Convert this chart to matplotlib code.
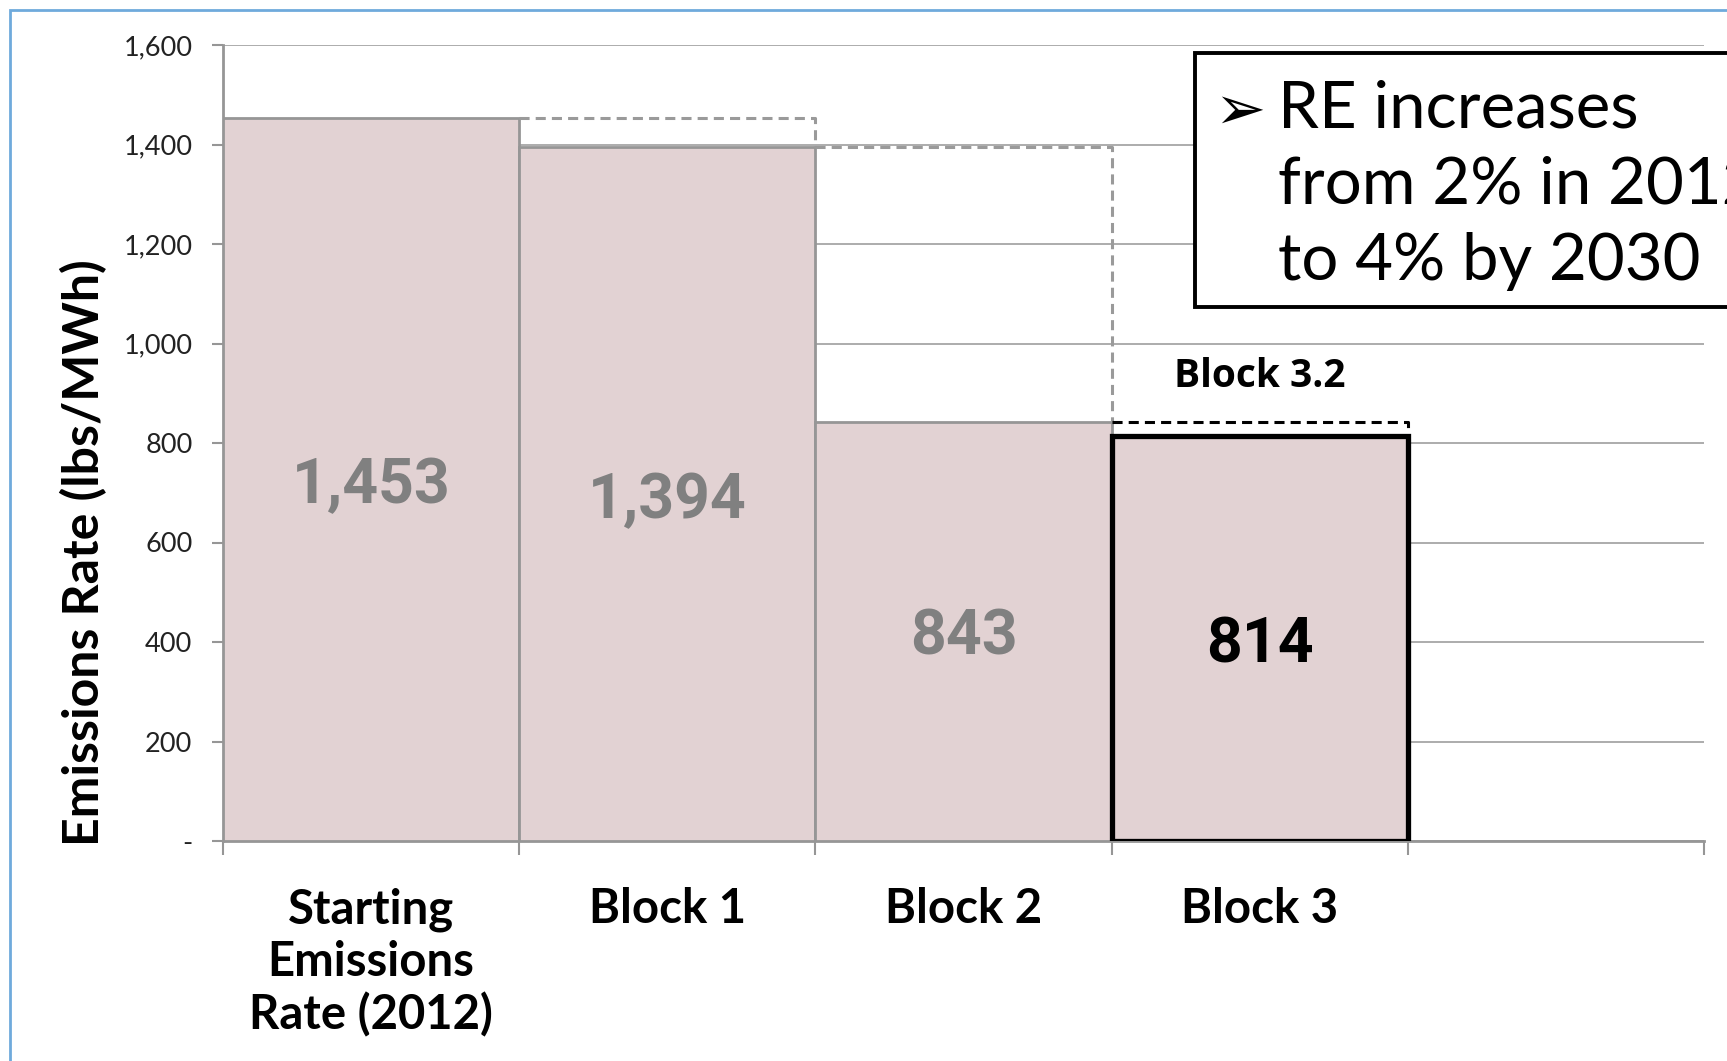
import matplotlib.pyplot as plt
from matplotlib.patches import Rectangle
import matplotlib.transforms as mtransforms

categories = ["Starting\nEmissions\nRate (2012)", "Block 1", "Block 2", "Block 3"]
values = [1453, 1394, 843, 814]
value_labels = ["1,453", "1,394", "843", "814"]
yticks = [0, 200, 400, 600, 800, 1000, 1200, 1400, 1600]
ytick_labels = ["-", "200", "400", "600", "800", "1,000", "1,200", "1,400", "1,600"]
note_lines = ["RE increases", "from 2% in 2012", "to 4% by 2030"]
block32_label = "Block 3.2"
ylabel = "Emissions Rate (lbs/MWh)"

W, H = 1727, 1061
fig = plt.figure(figsize=(W / 100, H / 100), dpi=100)
plt.rcParams['font.family'] = ['Lato', 'DejaVu Sans']

# axes placed in pixel coords
x0, x1, ytop, ybot = 223, 1704, 45, 841
ax = fig.add_axes([x0 / W, 1 - ybot / H, (x1 - x0) / W, (ybot - ytop) / H])

grey = '#969696'
fill = '#E2D2D3'

ax.set_xlim(-0.5, 4.5)
ax.set_ylim(0, 1600)
ax.set_yticks(yticks)
ax.set_yticklabels(ytick_labels, fontsize=19.5, color='#222222')
ax.yaxis.grid(True, color='#A6A6A6', linewidth=1.3)
ax.set_axisbelow(True)

ax.set_xticks([i - 0.5 for i in range(6)])
ax.set_xticklabels([])
ax.tick_params(axis='x', length=10, width=1.5, color=grey, direction='out')
ax.tick_params(axis='y', length=8, width=1.5, color=grey, pad=14)

for s in ['top', 'right']:
    ax.spines[s].set_visible(False)
ax.spines['left'].set_color(grey)
ax.spines['left'].set_linewidth(2)
ax.spines['bottom'].set_color(grey)
ax.spines['bottom'].set_linewidth(2)

xs = list(range(len(values)))
edges = [grey, grey, grey, 'black']
lws = [2.0, 2.0, 2.0, 3.8]
for x, v, ec, lw in zip(xs, values, edges, lws):
    ax.bar(x, v, width=1.0, color=fill, edgecolor=ec, linewidth=lw, zorder=3)

# ghost outline of previous level
dash = (0, (3.3, 2.0))
for i in range(1, len(values)):
    prev = values[i - 1]
    col = 'black' if i == len(values) - 1 else '#9A9A9A'
    ax.plot([i - 0.5, i + 0.5, i + 0.5], [prev, prev, values[i]],
            color=col, linewidth=2.2, linestyle=dash, zorder=4)

# value labels
for i, (v, lab) in enumerate(zip(values, value_labels)):
    c = 'black' if i == len(values) - 1 else '#808080'
    ax.text(i, v / 2, lab, ha='center', va='center_baseline', fontsize=45,
            fontweight='bold', color=c, family=['Roboto', 'DejaVu Sans'], zorder=5)

ax.text(3, 933, block32_label, ha='center', va='center', fontsize=28,
        fontweight='bold', family=['Open Sans', 'DejaVu Sans'], zorder=5)

# category labels
trans = mtransforms.blended_transform_factory(ax.transData, ax.transAxes)
for i, cat in enumerate(categories):
    ax.text(i, -0.058, cat, transform=trans, ha='center', va='top',
            fontsize=34, fontweight='bold', linespacing=1.22)

fig.text(84 / W, 1 - 553 / H, ylabel, rotation=90, ha='center', va='center',
         fontsize=36, fontweight='bold')

# note box (runs past the right edge)
fig.patches.append(Rectangle((1195 / W, 1 - 307 / H), 600 / W, (307 - 53) / H,
                             transform=fig.transFigure, facecolor='white',
                             edgecolor='black', linewidth=2.8, zorder=10))
fig.text(1214 / W, 1 - 129 / H, "\u27a2", fontsize=44, va='baseline',
         family=['DejaVu Sans'], zorder=11)
for k, line in enumerate(note_lines):
    fig.text(1278 / W, 1 - (128 + 76 * k) / H, line, fontsize=47,
             va='baseline', zorder=11)

# outer blue frame
fig.patches.append(Rectangle((10 / W, -0.1), 1.2, 1 - 10 / H + 0.1,
                             transform=fig.transFigure, fill=False,
                             edgecolor='#6FAADC', linewidth=2, zorder=0))

fig.savefig('out.png', dpi=100)
